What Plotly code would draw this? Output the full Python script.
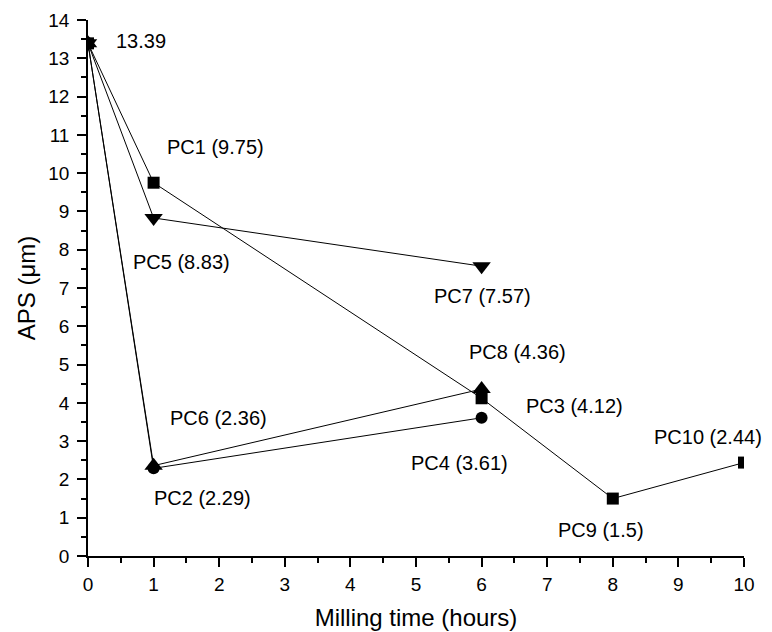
import plotly.graph_objects as go

# Data
x_a = [0, 1, 6, 8, 10]
y_a = [13.39, 9.75, 4.12, 1.5, 2.44]      # squares: PC1, PC3, PC9, PC10
x_b = [0, 1, 6]
y_b = [13.39, 8.83, 7.57]                 # down triangles: PC5, PC7
x_c = [0, 1, 6]
y_c = [13.39, 2.29, 3.61]                 # circles: PC2, PC4
x_d = [0, 1, 6]
y_d = [13.39, 2.36, 4.36]                 # up triangles: PC6, PC8

label_text = ["13.39", "PC1 (9.75)", "PC5 (8.83)", "PC7 (7.57)", "PC8 (4.36)",
              "PC3 (4.12)", "PC10 (2.44)", "PC4 (3.61)", "PC9 (1.5)",
              "PC6 (2.36)", "PC2 (2.29)"]
label_x = [0.81, 1.94, 1.42, 6.02, 6.54, 7.41, 9.45, 5.67, 7.82, 1.99, 1.75]
label_y = [13.45, 10.67, 7.69, 6.8, 5.33, 3.92, 3.11, 2.42, 0.67, 3.6, 1.51]

FONT = "Arial, Liberation Sans, sans-serif"

fig = go.Figure()
series = [
    (x_a, y_a, "square", 12),
    (x_b, y_b, "triangle-down", 16),
    (x_c, y_c, "circle", 12),
    (x_d, y_d, "triangle-up", 16),
]
for xs, ys, sym, sz in series:
    fig.add_trace(go.Scatter(
        x=xs, y=ys, mode="lines+markers",
        line=dict(color="black", width=1),
        marker=dict(symbol=sym, size=sz, color="black"),
        cliponaxis=True, showlegend=False,
    ))

for t, xx, yy in zip(label_text, label_x, label_y):
    fig.add_annotation(x=xx, y=yy, text=t, showarrow=False,
                       xanchor="center", yanchor="middle",
                       font=dict(family=FONT, size=20, color="black"))

axis_common = dict(
    showline=True, linecolor="black", linewidth=1.5,
    ticks="outside", ticklen=9, tickwidth=1.5, tickcolor="black",
    showgrid=False, zeroline=False, mirror=False,
    tickfont=dict(family=FONT, size=19, color="black"),
    minor=dict(dtick=0.5, ticks="outside", ticklen=5, tickwidth=1.5,
               tickcolor="black", showgrid=False),
    automargin=False,
)

fig.update_xaxes(range=[0, 10], dtick=1, tick0=0, ticklabelstandoff=1,
                 title=dict(text="Milling time (hours)", standoff=16,
                            font=dict(family=FONT, size=24, color="black")),
                 **axis_common)
fig.update_yaxes(range=[0, 14], dtick=1, tick0=0, ticklabelstandoff=4,
                 title=dict(text="APS (μm)", standoff=6,
                            font=dict(family=FONT, size=24, color="black")),
                 **axis_common)

fig.update_layout(
    width=764, height=624,
    margin=dict(l=80, r=28, t=12, b=76),
    plot_bgcolor="white", paper_bgcolor="white",
    showlegend=False,
)

fig.write_html("out.html")
